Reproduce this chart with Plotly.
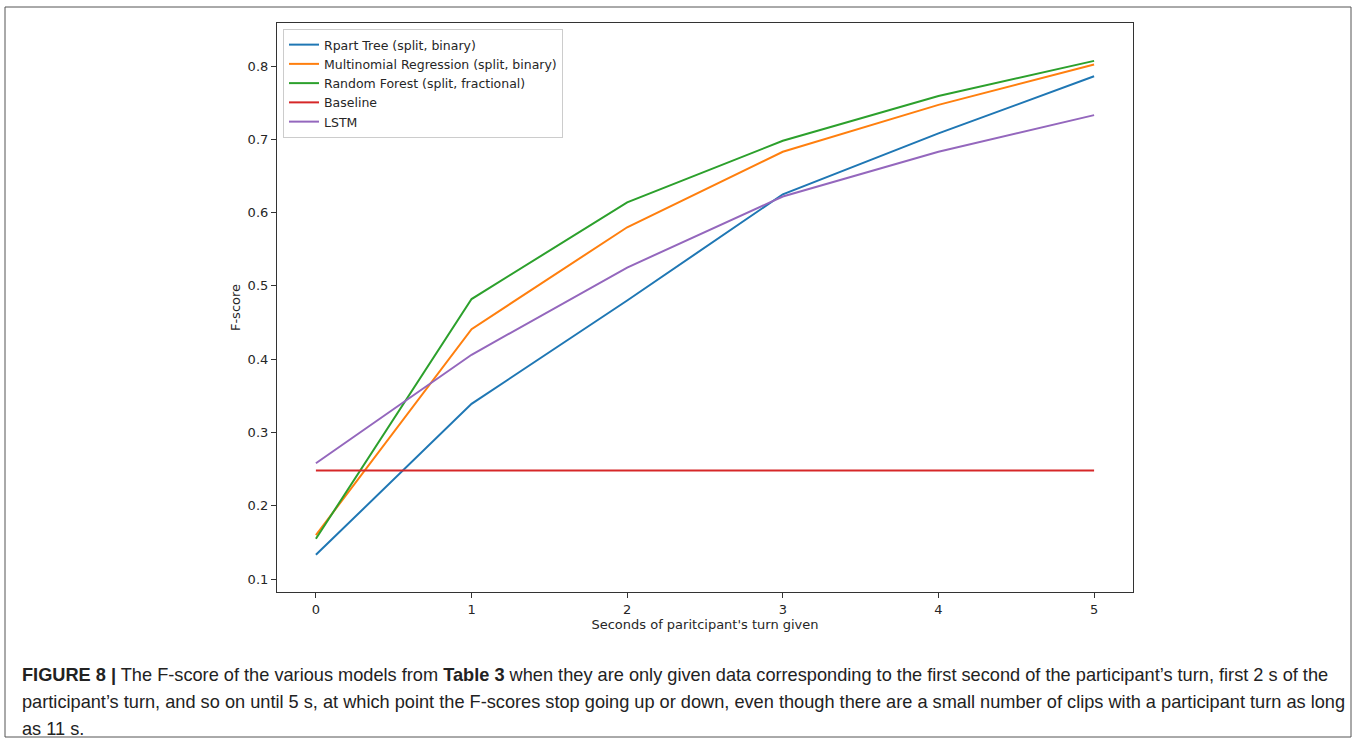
import plotly.graph_objects as go

W, H = 1357, 744

seconds = [0, 1, 2, 3, 4, 5]
rpart = [0.133, 0.339, 0.480, 0.625, 0.708, 0.786]
multinomial = [0.160, 0.441, 0.580, 0.683, 0.747, 0.802]
random_forest = [0.155, 0.482, 0.614, 0.698, 0.759, 0.807]
baseline = [0.248, 0.248, 0.248, 0.248, 0.248, 0.248]
lstm = [0.258, 0.406, 0.525, 0.622, 0.683, 0.733]

series_names = ["Rpart Tree (split, binary)", "Multinomial Regression (split, binary)",
                "Random Forest (split, fractional)", "Baseline", "LSTM"]
series_values = [rpart, multinomial, random_forest, baseline, lstm]
colors = ["#1f77b4", "#ff7f0e", "#2ca02c", "#d62728", "#9467bd"]

y_ticks = [0.1, 0.2, 0.3, 0.4, 0.5, 0.6, 0.7, 0.8]
y_tick_labels = ["0.1", "0.2", "0.3", "0.4", "0.5", "0.6", "0.7", "0.8"]

caption_lines = [
    "<b>FIGURE 8 |</b> The F-score of the various models from <b>Table 3</b> when they are only given data corresponding to the first second of the participant\u2019s turn, first 2 s of the",
    "participant\u2019s turn, and so on until 5 s, at which point the F-scores stop going up or down, even though there are a small number of clips with a participant turn as long",
    "as 11 s.",
]

fig = go.Figure()
for name, vals, col in zip(series_names, series_values, colors):
    fig.add_trace(go.Scatter(x=seconds, y=vals, mode="lines", name=name,
                             line=dict(color=col, width=2)))

# plot area in pixels
L, R, T, B = 277, 1133, 23, 592

axis_common = dict(showline=True, linecolor="#333333", linewidth=1.2, mirror=True,
                   ticks="outside", ticklen=5, tickcolor="#333333", tickwidth=1,
                   showgrid=False, zeroline=False,
                   tickfont=dict(family="DejaVu Sans", size=13, color="#262626"))

fig.update_layout(
    width=W, height=H,
    margin=dict(l=0, r=0, t=0, b=0),
    paper_bgcolor="white", plot_bgcolor="white",
    showlegend=True,
    legend=dict(x=283 / W, y=1 - 29 / H, xanchor="left", yanchor="top",
                bgcolor="white", bordercolor="#cccccc", borderwidth=1,
                font=dict(family="DejaVu Sans", size=12.5, color="#262626"),
                tracegroupgap=0),
    xaxis=dict(domain=[L / W, R / W], range=[-0.25, 5.25],
               tickvals=seconds, ticktext=[str(s) for s in seconds],
               title=dict(text="Seconds of paritcipant's turn given", standoff=4,
                          font=dict(family="DejaVu Sans", size=13, color="#262626")),
               **axis_common),
    yaxis=dict(domain=[1 - B / H, 1 - T / H], range=[0.0823, 0.8587],
               tickvals=y_ticks, ticktext=y_tick_labels,
               title=dict(text="F-score", standoff=4,
                          font=dict(family="DejaVu Sans", size=13, color="#262626")),
               **axis_common),
)

# outer figure border
fig.add_shape(type="rect", xref="paper", yref="paper",
              x0=5 / W, x1=1351 / W, y0=1 - 737 / H, y1=1 - 7 / H,
              line=dict(color="#555555", width=1), fillcolor="rgba(0,0,0,0)", layer="below")

caption_y = [675, 702, 729]
for line, yp in zip(caption_lines, caption_y):
    fig.add_annotation(text=line, xref="paper", yref="paper", x=20 / W, y=1 - yp / H,
                       xanchor="left", yanchor="middle", showarrow=False,
                       font=dict(family="Liberation Sans", size=18.2, color="#222222"))

fig.write_html("out.html")
